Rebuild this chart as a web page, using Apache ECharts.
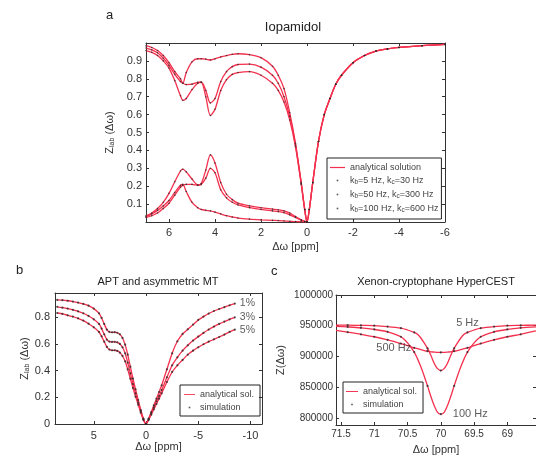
<!DOCTYPE html>
<html>
<head>
<meta charset="utf-8">
<script src="https://cdn.jsdelivr.net/npm/echarts@6/dist/echarts.min.js"></script>
<style>
html, body { margin:0; padding:0; background:#fff; }
#chart { width:536px; height:456px; }
</style>
</head>
<body>
<div id="chart"></div>
<script>
// ---- panel a: Iopamidol ----
const xaPos = [7, 6.75, 6.5, 6.25, 6, 5.75, 5.5, 5.4, 5.25, 5, 4.75, 4.6, 4.4, 4.2, 4, 3.75, 3.5, 3.25, 3, 2.5, 2, 1.5, 1.25, 1, 0.75, 0.5, 0.25, 0.1, 0];
const xaNeg = [-0.1, -0.25, -0.5, -0.75, -1, -1.25, -1.5, -2, -2.5, -3, -3.5, -4, -5, -6];
const zSlow = [.985, .975, .958, .93, .89, .84, .80, .775, .835, .895, .912, .912, .91, .905, .912, .922, .93, .937, .94, .935, .918, .87, .82, .745, .61, .44, .22, .07, 0];
const zMid  = [.972, .962, .945, .915, .875, .825, .785, .775, .768, .77, .78, .782, .735, .665, .69, .785, .84, .868, .88, .882, .865, .82, .775, .7, .59, .43, .215, .07, 0];
const zFast = [.958, .948, .93, .9, .86, .79, .705, .68, .69, .74, .775, .78, .70, .595, .63, .735, .795, .825, .835, .84, .82, .775, .735, .67, .57, .42, .21, .07, 0];
const zNeg  = [.07, .22, .45, .6, .69, .77, .82, .89, .93, .955, .967, .975, .985, .992];
const asymSlow = [.03, .045, .065, .09, .12, .165, .205, .21, .17, .11, .08, .07, .065, .062, .055, .045, .035, .028, .022, .016, .012, .009, .008, .006, .004, .002, .001, 0, 0];
const asymMid  = [.025, .035, .05, .075, .105, .15, .195, .205, .21, .21, .205, .21, .245, .3, .275, .18, .135, .11, .095, .08, .07, .062, .058, .052, .04, .025, .01, .003, 0];
const asymFast = [.035, .05, .075, .11, .16, .225, .285, .295, .28, .24, .207, .215, .29, .375, .33, .22, .155, .125, .105, .09, .08, .072, .068, .062, .05, .03, .012, .003, 0];
const kNames = ['k_b=5 Hz, k_c=30 Hz', 'k_b=50 Hz, k_c=300 Hz', 'k_b=100 Hz, k_c=600 Hz'];
const xTicksA = [6, 4, 2, 0, -2, -4, -6];
const yTicksA = [0.1, 0.2, 0.3, 0.4, 0.5, 0.6, 0.7, 0.8, 0.9];

// ---- panel b: APT and asymmetric MT ----
const xB = [8.5, 8, 7.5, 7, 6.5, 6, 5.5, 5, 4.5, 4.25, 4, 3.75, 3.5, 3.25, 3, 2.75, 2.5, 2.25, 2, 1.75, 1.5, 1.25, 1, 0.75, 0.5, 0.25, 0,
            -0.25, -0.5, -0.75, -1, -1.25, -1.5, -2, -2.5, -3, -3.5, -4, -4.5, -5, -5.5, -6, -6.5, -7, -7.5, -8, -8.5];
const b1 = [.93, .928, .924, .918, .91, .9, .887, .865, .83, .795, .75, .708, .69, .687, .688, .684, .672, .645, .595, .52, .43, .34, .26, .18, .105, .04, 0,
            .04, .09, .14, .19, .24, .29, .41, .53, .62, .675, .71, .745, .78, .805, .828, .847, .862, .876, .89, .903];
const b3 = [.878, .872, .865, .856, .845, .83, .81, .785, .75, .715, .672, .633, .618, .615, .616, .612, .6, .575, .53, .46, .38, .3, .23, .16, .095, .035, 0,
            .035, .08, .125, .17, .21, .255, .35, .44, .5, .55, .59, .625, .655, .683, .708, .73, .75, .768, .785, .8];
const b5 = [.832, .825, .815, .805, .792, .775, .752, .725, .69, .657, .617, .578, .558, .552, .553, .548, .535, .51, .47, .41, .34, .27, .205, .145, .085, .03, 0,
            .03, .07, .11, .15, .19, .23, .315, .39, .44, .48, .52, .55, .575, .598, .617, .635, .652, .67, .69, .707];
const bLabels = ['1%', '3%', '5%'];
const xTicksB = [5, 0, -5, -10];
const yTicksB = [0, 0.2, 0.4, 0.6, 0.8];

// ---- panel c: Xenon-cryptophane HyperCEST ----
const xC = [71.575, 71.4, 71.2, 71.0, 70.8, 70.6, 70.5, 70.4, 70.35, 70.3, 70.25, 70.2, 70.15, 70.1, 70.05, 70.0,
            69.95, 69.9, 69.85, 69.8, 69.75, 69.7, 69.65, 69.6, 69.5, 69.4, 69.2, 69.0, 68.8, 68.57];
const c5Hz = [951000, 951000, 950500, 950000, 948500, 946000, 943000, 939000, 936000, 930000, 922000, 913000, 902000, 889000, 880000, 877000,
              880000, 889000, 902000, 913000, 922000, 930000, 936000, 939000, 943000, 946000, 948500, 950000, 950500, 951000];
const c100Hz = [949000, 948000, 946500, 944000, 940000, 932000, 922000, 907000, 896000, 883000, 868000, 852000, 835000, 820000, 809000, 806000,
                809000, 820000, 835000, 852000, 868000, 883000, 896000, 907000, 922000, 932000, 940000, 944000, 946500, 948000];
const c500Hz = [942500, 939500, 936000, 932000, 927000, 921000, 917500, 914000, 912500, 911000, 909500, 908500, 907500, 907000, 906500, 906500,
                906500, 907000, 907500, 908500, 909500, 911000, 912500, 914000, 917500, 921000, 927000, 932000, 936000, 941500];
const simXC = [71.4, 71.2, 71.0, 70.8, 70.6, 70.4, 70.2, 70.0, 69.8, 69.6, 69.4, 69.2, 69.0, 68.8];
const xTicksC = [71.5, 71, 70.5, 70, 69.5, 69];
const yTicksC = [800000, 850000, 900000, 950000, 1000000];

const RED = '#f3304d';
const INK = '#333';
const FONT = '"Liberation Sans", Arial, Helvetica, sans-serif';
const DOT = 'path://M0 0M10 10M4 4h2v2h-2z';
const DASH = 'path://M0 0h20v1.6h-20z';

function pts(xs, ys) { return xs.map((x, i) => [x, ys[i]]); }

function curve(name, g, data, smooth) {
  return {
    name, type: 'line', xAxisIndex: g * 2, yAxisIndex: g * 2, data,
    symbol: 'none', smooth: smooth, silent: true, z: 2,
    lineStyle: { color: RED, width: 1.3 }, itemStyle: { color: RED }
  };
}
function dots(name, g, data, size) {
  return {
    name, type: 'scatter', xAxisIndex: g * 2, yAxisIndex: g * 2, data,
    symbol: 'circle', symbolSize: size, silent: true, z: 3,
    itemStyle: { color: '#2a2a2a' }
  };
}
function note(g, x, y, text, pos, dist, fs) {
  return {
    type: 'scatter', xAxisIndex: g * 2, yAxisIndex: g * 2, data: [[x, y]],
    symbolSize: 0, silent: true, z: 4,
    label: { show: true, formatter: text, position: pos, distance: dist, color: INK, fontSize: fs, fontFamily: FONT }
  };
}

function xPair(g, min, max, ticks, fs, margin, nameGap) {
  const base = {
    gridIndex: g, type: 'value', min, max, inverse: true, splitLine: { show: false },
    axisLine: { show: true, onZero: false, lineStyle: { color: INK, width: 1 } },
    axisTick: { show: true, inside: true, length: 3, customValues: ticks, lineStyle: { color: INK } }
  };
  return [
    Object.assign({}, base, {
      position: 'bottom',
      axisLabel: { customValues: ticks, color: INK, fontSize: fs, fontFamily: FONT, margin, formatter: v => String(v) },
      name: 'Δω [ppm]', nameLocation: 'middle', nameGap,
      nameTextStyle: { color: INK, fontSize: 11, fontFamily: FONT }
    }),
    Object.assign({}, base, { position: 'top', axisLabel: { show: false } })
  ];
}
function yPair(g, min, max, ticks, fs, margin, name, nameGap) {
  const base = {
    gridIndex: g, type: 'value', min, max, splitLine: { show: false },
    axisLine: { show: true, onZero: false, lineStyle: { color: INK, width: 1 } },
    axisTick: { show: true, inside: true, length: 3, customValues: ticks, lineStyle: { color: INK } }
  };
  return [
    Object.assign({}, base, {
      position: 'left',
      axisLabel: { customValues: ticks, color: INK, fontSize: fs, fontFamily: FONT, margin, formatter: v => String(v) },
      name, nameLocation: 'middle', nameGap,
      nameTextStyle: { color: INK, fontSize: 11, fontFamily: FONT, rich: { s: { fontSize: 7, padding: [5, 0, 0, 0], color: INK, fontFamily: FONT } } }
    }),
    Object.assign({}, base, { position: 'right', axisLabel: { show: false } })
  ];
}

function legendBox(left, top, names, itemWidth, padding) {
  return {
    left, top, orient: 'vertical', selectedMode: false,
    data: names.map((n, i) => ({ name: n, icon: i === 0 ? DASH : DOT })),
    itemWidth, itemHeight: 8, itemGap: 4, padding,
    borderColor: '#222', borderWidth: 1, borderRadius: 0,
    formatter: n => n.replace(/_(\w)/g, '{s|$1}'),
    textStyle: { fontSize: 9, color: '#444', fontFamily: FONT,
      rich: { s: { fontSize: 6.5, padding: [4, 0, 0, 0], color: '#444', fontFamily: FONT } } }
  };
}

const series = [];
// panel a
[zSlow, zMid, zFast].forEach(z => series.push(curve('analytical solution', 0, pts(xaPos, z).concat(pts(xaNeg, zNeg)), 0.3)));
[asymSlow, asymMid, asymFast].forEach(a => series.push(curve('analytical solution', 0, pts(xaPos, a), 0.3)));
[[zSlow, asymSlow], [zMid, asymMid], [zFast, asymFast]].forEach((pair, i) => {
  series.push(dots(kNames[i], 0, pts(xaPos, pair[0]).concat(pts(xaNeg, zNeg), pts(xaPos, pair[1])), 1.6));
});
// panel b
[b1, b3, b5].forEach((b, i) => {
  series.push(curve('analytical sol.', 1, pts(xB, b), 0.15));
  series.push(dots('simulation', 1, pts(xB, b), 2.2));
  const last = xB.length - 1;
  series.push(note(1, xB[last], b[last], bLabels[i], 'right', 5, 10.5));
});
// panel c
[c5Hz, c100Hz, c500Hz].forEach(c => {
  series.push(curve('analytical sol.', 2, pts(xC, c), 0.3));
  series.push(dots('simulation', 2, pts(xC, c).filter(p => simXC.includes(p[0])), 2.2));
});
series.push(note(2, xC[23], c5Hz[23], '5 Hz', 'top', 4, 11));
series.push(note(2, xC[7], c500Hz[7], '500 Hz', 'left', 3, 11));
series.push(note(2, xC[15], c100Hz[15], '100 Hz', 'right', 12, 11));

const titleStyle = (fs) => ({ color: '#222', fontSize: fs, fontWeight: 'normal', fontFamily: FONT });

const option = {
  animation: false,
  backgroundColor: '#fff',
  title: [
    { text: 'a', left: 106, top: 9, padding: 0, textStyle: titleStyle(13) },
    { text: 'Iopamidol', left: 293, top: 21, padding: 0, textAlign: 'center', textStyle: titleStyle(13) },
    { text: 'b', left: 16, top: 264, padding: 0, textStyle: titleStyle(13) },
    { text: 'APT and asymmetric MT', left: 158, top: 276, padding: 0, textAlign: 'center', textStyle: titleStyle(11) },
    { text: 'c', left: 271, top: 265, padding: 0, textStyle: titleStyle(13) },
    { text: 'Xenon-cryptophane HyperCEST', left: 436, top: 276, padding: 0, textAlign: 'center', textStyle: titleStyle(11) }
  ],
  grid: [
    { left: 146, top: 43, width: 299, height: 179 },
    { left: 55, top: 293, width: 207, height: 131 },
    { left: 336, top: 295, width: 200, height: 130 }
  ],
  xAxis: [].concat(
    xPair(0, -6, 7, xTicksA, 11, 5, 19),
    xPair(1, -11.1, 8.71, xTicksB, 11, 6, 17),
    xPair(2, 68.57, 71.575, xTicksC, 10, 4, 19)
  ),
  yAxis: [].concat(
    yPair(0, 0, 1, yTicksA, 11, 4, 'Z{s|lab} (Δω)', 30),
    yPair(1, 0, 0.982, yTicksB, 11, 5, 'Z{s|lab} (Δω)', 24),
    yPair(2, 788300, 1000000, yTicksC, 10, 3, 'Z(Δω)', 50)
  ),
  legend: [
    legendBox(327, 158, ['analytical solution'].concat(kNames), 15, [5, 3, 5, 3]),
    legendBox(180, 385, ['analytical sol.', 'simulation'], 11, [5, 6, 4, 4]),
    legendBox(343, 382, ['analytical sol.', 'simulation'], 12, [5, 6, 4, 3])
  ],
  series
};

const chart = echarts.init(document.getElementById('chart'), null, { renderer: 'canvas' });
chart.setOption(option);
</script>
</body>
</html>
